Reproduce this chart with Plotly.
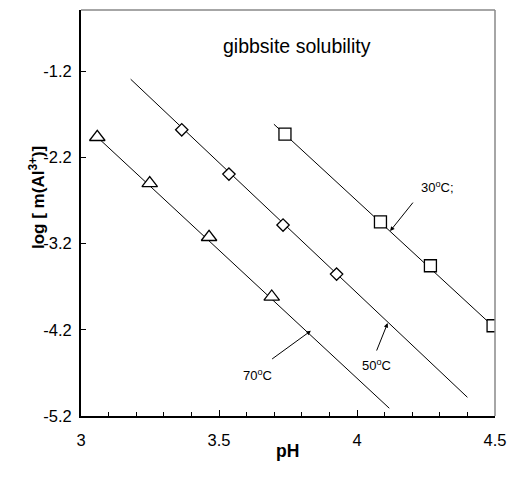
import plotly.graph_objects as go

# 30 C (squares)
ph30 = [3.739, 4.085, 4.266, 4.493]
log30 = [-1.93, -2.947, -3.457, -4.153]
fit30_ph = [3.699, 4.5]
fit30_log = [-1.815, -4.18]

# 50 C (diamonds)
ph50 = [3.365, 3.536, 3.732, 3.926]
log50 = [-1.88, -2.394, -2.985, -3.554]
fit50_ph = [3.18, 4.40]
fit50_log = [-1.293, -4.983]

# 70 C (triangles)
ph70 = [3.059, 3.249, 3.464, 3.691]
log70 = [-1.965, -2.50, -3.125, -3.816]
fit70_ph = [3.059, 4.117]
fit70_log = [-1.965, -5.11]

yticks = [-1.2, -2.2, -3.2, -4.2, -5.2]
yticklabels = ["-1.2", "-2.2", "-3.2", "-4.2", "-5.2"]
xticks = [3, 3.5, 4, 4.5]
xticklabels = ["3", "3.5", "4", "4.5"]

fig = go.Figure()
line_style = dict(color="black", width=1)
fig.add_trace(go.Scatter(x=fit30_ph, y=fit30_log, mode="lines", line=line_style, showlegend=False))
fig.add_trace(go.Scatter(x=fit50_ph, y=fit50_log, mode="lines", line=line_style, showlegend=False))
fig.add_trace(go.Scatter(x=fit70_ph, y=fit70_log, mode="lines", line=line_style, showlegend=False))

mk_line = dict(color="black", width=1.3)
fig.add_trace(go.Scatter(x=ph30, y=log30, mode="markers", showlegend=False,
                         marker=dict(symbol="square", size=12, color="white", line=mk_line)))
fig.add_trace(go.Scatter(x=ph50, y=log50, mode="markers", showlegend=False,
                         marker=dict(symbol="diamond", size=9.5, color="white", line=mk_line)))
fig.add_trace(go.Scatter(x=ph70, y=log70, mode="markers", showlegend=False,
                         marker=dict(symbol="triangle-up", size=13.5, color="white", line=mk_line)))

font_main = dict(family="Liberation Sans, Arial, sans-serif", color="black")

# arrows: (head_x, head_y, tail_x, tail_y)
arrows = [
    (4.120, -3.055, 4.207, -2.707),
    (4.111, -4.122, 4.069, -4.458),
    (3.833, -4.211, 3.687, -4.551),
]
for hx, hy, tx, ty in arrows:
    fig.add_annotation(x=hx, y=hy, ax=tx, ay=ty, axref="x", ayref="y", xref="x", yref="y",
                       text="", showarrow=True, arrowhead=2, arrowsize=0.9, arrowwidth=1,
                       arrowcolor="black", standoff=0, startstandoff=0)

labels = [("30<sup>o</sup>C;", 4.29, -2.545), ("50<sup>o</sup>C", 4.072, -4.609), ("70<sup>o</sup>C", 3.641, -4.725)]
for t, x, y in labels:
    fig.add_annotation(x=x, y=y, xref="x", yref="y", text=t, showarrow=False,
                       font=dict(size=13, **font_main))

PL, PT, PW, PH = 81, 10, 414, 406
def px(x):
    return (x - PL) / PW
def py(y):
    return 1 - (y - PT) / PH

fig.add_annotation(x=px(297), y=py(33), xref="paper", yref="paper", text="gibbsite solubility",
                   showarrow=False, font=dict(size=19.5, **font_main))
fig.add_annotation(x=px(24), y=py(198), xref="paper", yref="paper",
                   text="<b>log [ m(Al<sup>3+</sup>)]</b>", textangle=-90,
                   showarrow=False, font=dict(size=17, **font_main))
fig.add_annotation(x=px(287), y=py(463), xref="paper", yref="paper",
                   text="<b>pH</b>", showarrow=False, font=dict(size=17.5, **font_main))

# grey top/right frame
fig.add_shape(type="line", xref="paper", yref="paper", x0=0, x1=1, y0=1, y1=1,
              line=dict(color="#888888", width=1.5))
fig.add_shape(type="line", xref="paper", yref="paper", x0=1, x1=1, y0=0, y1=1,
              line=dict(color="#888888", width=1.5))

fig.update_layout(
    width=511, height=477, autosize=False,
    margin=dict(l=PL, r=511 - PL - PW, t=PT, b=477 - PT - PH, pad=0),
    plot_bgcolor="white", paper_bgcolor="white",
    font=dict(size=16, **font_main),
)
fig.update_xaxes(range=[3, 4.5], tickvals=xticks, ticktext=xticklabels, automargin=False,
                 ticks="inside", ticklen=6, tickwidth=1, tickcolor="black",
                 minor=dict(dtick=0.1, ticks="inside", ticklen=4, tickcolor="black", tickwidth=1),
                 showline=True, linecolor="black", linewidth=2, showgrid=False, zeroline=False,
                 tickfont=dict(size=16.5), ticklabelstandoff=8)
fig.update_yaxes(range=[-5.2, -0.49], tickvals=yticks, ticktext=yticklabels, automargin=False,
                 ticks="inside", ticklen=5, tickwidth=1, tickcolor="black",
                 showline=True, linecolor="black", linewidth=2, showgrid=False, zeroline=False,
                 tickfont=dict(size=16.5), ticklabelstandoff=4)

fig.write_html("out.html")
